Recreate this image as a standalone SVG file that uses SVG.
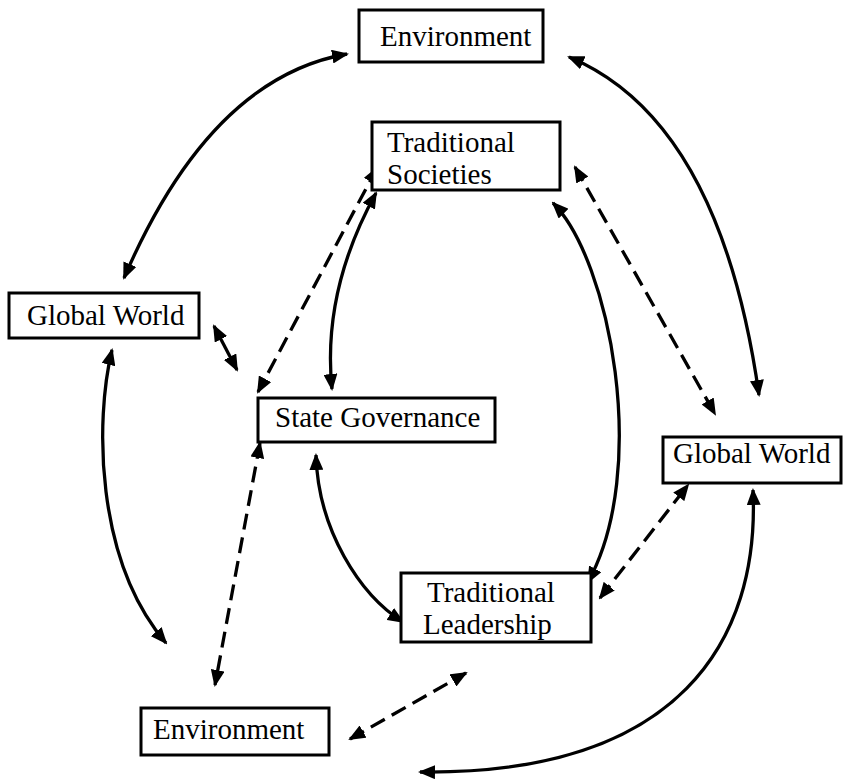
<svg xmlns="http://www.w3.org/2000/svg" width="844" height="781" viewBox="0 0 844 781">
<style>
.box{fill:#fff;stroke:#000;stroke-width:3}
.lbl{font-family:"Liberation Serif","Times New Roman",serif;font-size:29px;fill:#000}
.c{fill:none;stroke:#000;stroke-width:3.3;marker-start:url(#ah);marker-end:url(#ah)}
.d{stroke-dasharray:16 8}
</style>
<defs>
<marker id="ah" markerUnits="userSpaceOnUse" markerWidth="17" markerHeight="14" refX="15" refY="7" orient="auto-start-reverse" viewBox="0 0 17 14">
<path d="M0,0 L17,7 L0,14 z" fill="#000"/>
</marker>
</defs>
<g id="connectors">
<path class="c" d="M347,54 Q210,78 124,278"/>
<path class="c" d="M569,57 Q720,120 759,395"/>
<path class="c" d="M214,326 L237,370"/>
<path class="c d" d="M377,168 L258,392"/>
<path class="c" d="M376,193 Q322,291 332,389"/>
<path class="c" d="M553,203 C610,260 650,470 588,582"/>
<path class="c d" d="M575,167 L715,414"/>
<path class="c" d="M112,350 C95,420 95,560 166,643"/>
<path class="c d" d="M260,443 L215,685"/>
<path class="c" d="M316,455 C318,530 360,595 403,622"/>
<path class="c d" d="M600,598 L688,485"/>
<path class="c" d="M753,490 C760,640 680,775 420,772"/>
<path class="c d" d="M350,739 L466,673"/>
</g>
<g id="env-top"><rect class="box" x="359" y="10" width="184" height="52"/><text class="lbl" x="380" y="46">Environment</text></g>
<g id="trad-societies"><rect class="box" x="372" y="122" width="188" height="68"/><text class="lbl" x="387" y="152">Traditional</text><text class="lbl" x="387" y="184">Societies</text></g>
<g id="global-left"><rect class="box" x="9" y="293" width="190" height="45"/><text class="lbl" x="27" y="325">Global World</text></g>
<g id="state-gov"><rect class="box" x="258" y="398" width="237" height="44"/><text class="lbl" x="275" y="427">State Governance</text></g>
<g id="global-right"><rect class="box" x="663" y="437" width="178" height="46"/><text class="lbl" x="673" y="463">Global World</text></g>
<g id="trad-leadership"><rect class="box" x="401" y="573" width="190" height="69"/><text class="lbl" x="427" y="602">Traditional</text><text class="lbl" x="423" y="634">Leadership</text></g>
<g id="env-bottom"><rect class="box" x="141" y="708" width="188" height="47"/><text class="lbl" x="153" y="739">Environment</text></g>
</svg>
